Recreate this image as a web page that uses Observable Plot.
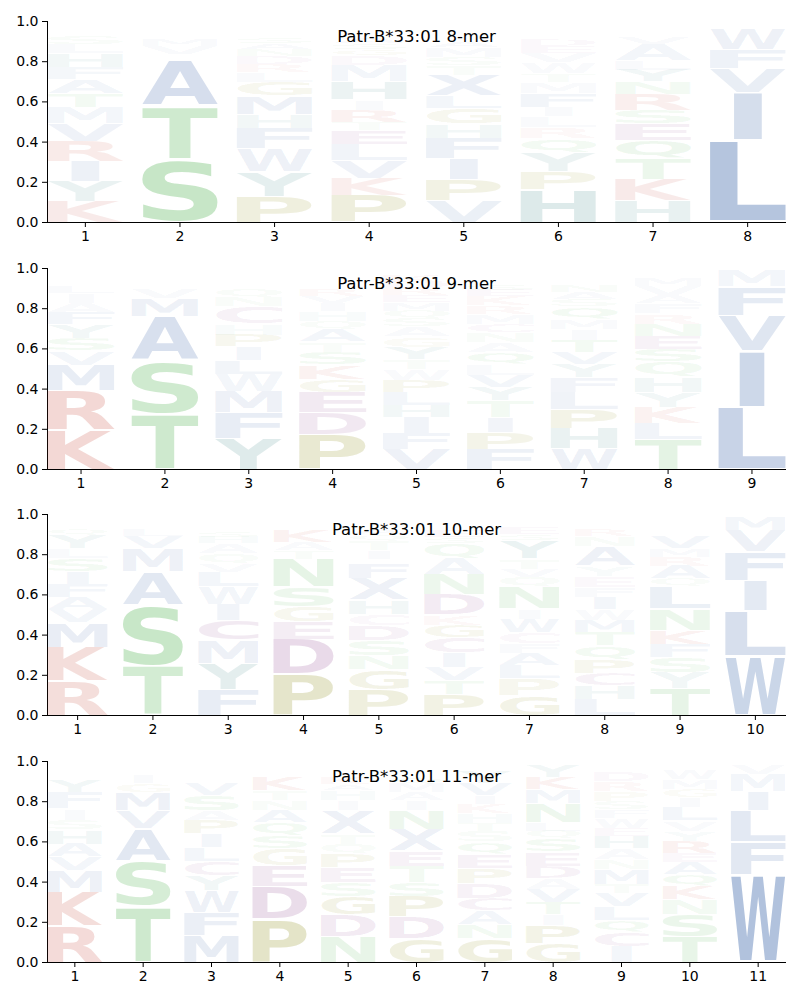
<!DOCTYPE html>
<html><head><meta charset="utf-8">
<script src="https://cdn.jsdelivr.net/npm/d3@7"></script>
<script src="https://cdn.jsdelivr.net/npm/@observablehq/plot@0.6"></script>
<style>
body{margin:0;background:#fff}
#chart svg{display:block}
</style>
</head><body><div id="chart"></div>
<script>
// ---- data: each column lists letters bottom -> top with heights in percent ----
const allele = "Patr-B*33:01";
const lengths = [8, 9, 10, 11];
const yTicks = [0, 0.2, 0.4, 0.6, 0.8, 1.0];

const mer8 = [
"K10.5 Y10 I10 R10 V9 M8 T6.5 A7 F6 H7 L4.5 S4 G2 N1.5 Q1.5 E1 W1 C0.5",
"S31.5 T26.5 A23 Q2.5 V4 M3 F2 G2 L2 Y1.5 C1 R1",
"P13 Y12.5 W11.5 F10 H7 M9 G7 L5 R4 D4 N3 A3 S3 Q2.5 T2 E1.5 V1 C0.5 K0.5",
"P13.5 K8.5 V9 L8 E7 T4 R6 I5 H9 M8 D5 G3 S3 A3 N2 Q2 F1.5 Y1.5 W1",
"V11 P10.5 I10.5 F10 H7 G8 L6 X10.5 T4.5 S4 M5 A3 Y2.5 E2 N1.5 D1.5 W1 Q0.5 C1",
"H16.5 P9 Y9.5 Q7 R5.5 L5.5 I4.5 F7 M5.5 T4 W5.5 V5 E3 D3 K2.5 N2 S2 A1.5 G1.5",
"H11 K10.5 T10.5 Q9 E8 S7 R8 N6 Y6 L4.5 A8 V3 G2.5 D2 M1.5 F1.5 W1",
"L41 I23.5 V12 F9.5 W10 M2.5 Y1.5"
];
const mer9 = [
"K19.5 R19.5 M13 V7 S6 Y7 F6 A4.5 I5 L3 Q2.5 G2 T2 H1.5 N1.5",
"T27.5 S26.5 A22 M9 V5 L2.5 I2 F1.5 Q1.5 G1.5 Y1",
"Y15.5 F13 M10.5 W8.5 L7 I6.5 P6 H5.5 C8.5 N4.5 Q4.5 A2.5 V2.5 T2 S1.5 G1.5",
"P17.5 D11 E10 G6.5 K7 S6.5 T5 A6 Q4.5 H5 I4 V3 R3 M2.5 N2.5 L2 F2 Y2",
"V10 F8 I8 H6 L6.5 P6 W5.5 T5 Y6 G5 A5 S4 Q4 M4 E3.5 R3.5 D3 K3 N2.5 C1.5",
"F10 P8.5 I7.5 T8.5 Y6.5 V6 L5.5 Q6 A5 N5 C4 M5 R4 K4.5 E3 S3 D2.5 G2 H2 W1.5",
"W10.5 H10 P9.5 L8.5 F7.5 Y6.5 V6 T6 I5.5 M5 Q6 S3.5 A3.5 N3 G2.5 E2.5 R2 D2",
"T15 L8 K8 Y7.5 H7.5 Q7.5 S6.5 E6.5 N6 R5 F5 A4 V4.5 M4 G2 I1.5 W1.5",
"L31 I28 V17.5 F14.5 M8 Y1"
];
const mer10 = [
"R17 K17 M12.5 V6.5 A6 F6.5 I6 S6.5 L5 Y6.5 Q3 H2.5 G2 T1.5 N1.5",
"T24.5 S30.5 A16.5 M11.5 V6 L3 I2.5 G2 Q1.5 F1 Y1",
"F13 Y13 M11.5 C10 I8 W8.5 L7.5 V4 Q5 A5 H3 S3 G2.5 P2.5 T2 N1.5",
"P20.5 D17.5 E8.5 G7.5 S10 N14 T4 A4 K6 R2.5 Q2 V1.5 H1 Y1",
"P13 G10 N7 S7.5 D7.5 C5.5 H7 X10.5 F7.5 E2.5 I4 T5 Q3 A3 K2.5 R2 Y1.5 L1",
"P10.5 T7 V6.5 I7.5 C7.5 G6 K5 D10 N10 A8 Q7.5 S3 E3 L2.5 Y2 F2 R2",
"G10 P8.5 L6.5 A6 F5 C5.5 W6.5 I5 N11 Q5 V4 T5 Y9 S3 E3 D2.5 H2 K1.5 M1",
"L8 H7 C6 P7 Q7 T6.5 M6 W5.5 I6 F5 E5.5 Y5 A9.5 N5 R3 K2.5 S2 G2 D1.5",
"T13.5 Y8 S7.5 F6.5 K7 N10.5 L11 Q4 A6.5 R4.5 M4 V6 H2.5 I2.5 E2 G2 D1 P1",
"W29.5 L22.5 I15 F14.5 V10.5 M7 Y1"
];
const mer11 = [
"R18 K17 M11 V6.5 A6.5 H7 S5 I5.5 F8 Y6 L2.5 Q2 G2 T1.5 N1.5",
"T27.5 S23 A16 V9 M9 G4.5 I4 L2 Q1.5 F1.5 Y1 E1",
"M13.5 F11.5 W11 Y7.5 C7 L7 I6.5 P6.5 A5 S7.5 V6 T2.5 Q2.5 G2 H2 N1 E1",
"P21.5 D16.5 E10 G8.5 S6.5 Q6.5 A6 N5 T5 K6.5 R2.5 V2 H1.5 Y1 M1",
"N13 D11 G9 S7 E7.5 P6.5 Q5 T5 X11.5 I5 H5 A3 K3 R2.5 V2 Y2 C2",
"G12 D11 P10 S7 T8 E7.5 X10.5 N9.5 I5 A4 M4.5 Q3 K2.5 V2 R1.5 Y1 H1",
"G12 N7 A7 C6 D7.5 P7.5 E7 Q6 S5.5 T4 H5 K4.5 I4 V6 Y6 R2 M1.5 F1.5",
"G9.5 P9 I5.5 T6 V6.5 A5.5 D6 E7 S6.5 Q4 L4 N9.5 M7 K6 Y6 R1 F1",
"I8 C7 Q6 L7 V6.5 T4.5 M7.5 N5 A5.5 H6 E4 W5 F4 S4 P5 R5 D5 K2 Y1.5 G1.5",
"T13 S11 N7.5 K6.5 Q6 A6 E4.5 R6 Y5 V5 L6.5 I5 G4 M5 W4.5 F2 H1.5 D1",
"W43.5 F16.5 L15.5 I9.5 M8.5 V5 Y1.5"
];
const panels = [mer8, mer9, mer10, mer11];

// ---- style ----
const BLUE = "#4c72b0", GREEN = "#4cb04c", RED = "#c0392b", TEAL = "#307f7f", OLIVE = "#808000", PURPLE = "#803080";
const colorOf = {A:BLUE,V:BLUE,L:BLUE,I:BLUE,M:BLUE,F:BLUE,W:BLUE,X:BLUE,
  S:GREEN,T:GREEN,N:GREEN,Q:GREEN,K:RED,R:RED,H:TEAL,Y:TEAL,P:OLIVE,G:OLIVE,D:PURPLE,E:PURPLE,C:PURPLE};
const narrow = {I: 0.37};
const FONT = "DejaVu Sans";
const WIDTH = 0.8, VPAD = 0.05;

const ctx = document.createElement("canvas").getContext("2d");
ctx.font = `bold 100px "${FONT}"`;
const metricCache = {};
function inkBox(ch) {
  if (!metricCache[ch]) {
    const m = ctx.measureText(ch);
    metricCache[ch] = {L: m.actualBoundingBoxLeft, R: m.actualBoundingBoxRight, A: m.actualBoundingBoxAscent, D: m.actualBoundingBoxDescent};
  }
  return metricCache[ch];
}

function parseColumn(str, pos) {
  let y = 0;
  return str.trim().split(/\s+/).map(tok => {
    const p = +tok.slice(1) / 100;
    const row = {pos, letter: tok[0], p, y0: y, y1: y + p};
    y += p;
    return row;
  });
}

const chart = document.getElementById("chart");
panels.forEach((cols, k) => {
  const n = lengths[k];
  const rows = cols.flatMap((s, i) => parseColumn(s, i + 1));
  const plot = Plot.plot({
    width: 800, height: 246.5,
    marginLeft: 47, marginRight: 15, marginTop: 21, marginBottom: 24.5,
    style: {fontFamily: FONT, fontSize: "14px", color: "black", background: "white"},
    x: {domain: [0.6, n + 0.4], ticks: d3.range(1, n + 1), tickFormat: d => String(d), tickSize: 5, tickPadding: 4, line: true, label: null},
    y: {domain: [0, 1], ticks: yTicks, tickFormat: d3.format(".1f"), tickSize: 5, tickPadding: 4, line: true, label: null},
    opacity: {domain: [0, 0.8], range: [0.04, 1], clamp: true},
    marks: [
      Plot.text(rows, {x: "pos", y: d => (d.y0 + d.y1) / 2, text: "letter",
        fill: d => colorOf[d.letter], fillOpacity: "p",
        fontSize: 100, fontWeight: "bold", fontFamily: FONT, textAnchor: "start"}),
      Plot.text([`${allele} ${n}-mer`], {frameAnchor: "top", lineAnchor: "middle", dy: 15, fontSize: 16.5, fontFamily: FONT, fill: "black"})
    ]
  });
  const xs = plot.scale("x"), ys = plot.scale("y");
  const textGroups = plot.querySelectorAll('g[aria-label="text"]');
  const g = textGroups[0];
  const texts = g ? g.querySelectorAll("text") : [];
  texts.forEach((el, i) => {
    const d = rows[i];
    if (!d) return;
    const b = inkBox(d.letter);
    const pad = d.p * VPAD / 2;
    const w = WIDTH * (narrow[d.letter] || 1);
    const X0 = xs.apply(d.pos - w / 2), X1 = xs.apply(d.pos + w / 2);
    const Yt = ys.apply(d.y1 - pad), Yb = ys.apply(d.y0 + pad);
    const sx = (X1 - X0) / (b.L + b.R), sy = (Yb - Yt) / (b.A + b.D);
    ["x", "y", "dx", "dy"].forEach(a => el.removeAttribute(a));
    el.setAttribute("transform", `translate(${X0},${Yt}) scale(${sx},${sy}) translate(${b.L},${b.A})`);
  });
  // axis tick labels: matplotlib-like font
  plot.querySelectorAll("text").forEach(el => {
    if (g && g.contains(el)) return;
    if (textGroups[1] && textGroups[1].contains(el)) return;
    el.setAttribute("font-size", 14);
    el.style.fontSize = "14px";
    el.style.fontFamily = `"${FONT}"`;
    el.style.fill = "black";
  });
  chart.appendChild(plot);
});
</script>
</body></html>
